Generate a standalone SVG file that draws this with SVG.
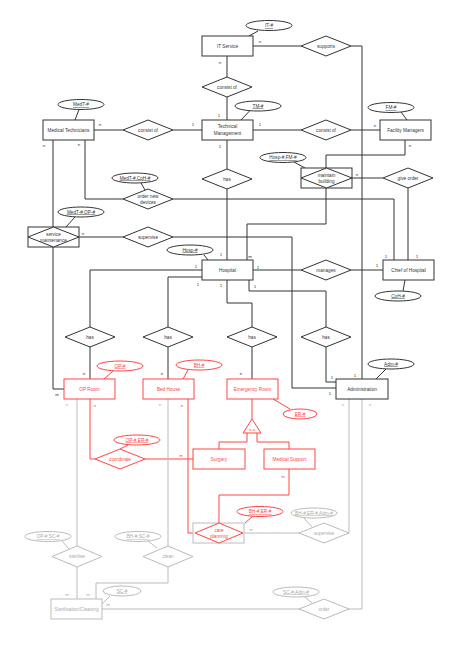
<svg xmlns="http://www.w3.org/2000/svg" width="454" height="651" viewBox="0 0 454 651">
<style>
text{font-family:"Liberation Sans",Arial,sans-serif;font-size:4.7px;text-anchor:middle;dominant-baseline:central}
.k rect,.k polygon,.k ellipse{fill:#fff;stroke:#333;stroke-width:1}
.k text{fill:#333}
.r rect,.r polygon,.r ellipse{fill:#fff;stroke:#f44;stroke-width:1}
.r text{fill:#f44}
.g rect,.g polygon,.g ellipse{fill:#fff;stroke:#bbb;stroke-width:1}
.g text{fill:#aaa}
.u{text-decoration:underline}
path{fill:none;stroke-width:1}
.lk{stroke:#333}.lr{stroke:#f44}.lg{stroke:#bbb}
.c{font-size:4.4px}
.ck{fill:#333}.cr{fill:#f44}.cg{fill:#aaa}
</style>
<rect width="454" height="651" fill="#fff"/>
<g id="connectors">
<g class="lk">
<path class="lk" d="M227,56V77M227,97V120M253,46H301M351,46H362V379M94,130H123M173,130H202M253,130H301M351,130H380M227,140V169M227,189V260M85,140V199H123M173,199H394V260M405,140V155H326V168M326,188V224H247V260M352,178H383M408,188V260M53,140V227M79,237H123M173,237H292V388H336M53,247V389H64M253,270H301M351,270H383M202,270H90V327M202,277H168V327M227,280V303H252V327M249,280V291H326V327M90,347V379M168,347V379M252,347V379M326,347V382H336"/>
<path class="lk" d="M258,31L249,36M79,109.5L75,120M250,110.5L241,120M401,112L407,120M294,162L305,168M141,183L145,190M75,217L66,227M204,255L208,260M403,291L405,280M386,369L376,379"/>
</g>
<path class="lr" d="M252,399V419M247,433V442H219V449M257,433V442H289V449M90,399V459H95M145,459H193M188,399V533H195M289,469V495H219V523M113,371L104,379M188,370L183,379M290,409L273,399M128,445L120,449M253,516L245,523"/>
<path class="lg" d="M77,399V546M77,567V599M168,399V546M168,567V583H96V599M102,609H299M349,609H362V399M244,533H299M349,533V399M304,518L312,527M62,541L69,549M148,541L157,548M110,596L102,604M305,597L312,603"/>
</g>
<g id="labels">
<text class="c ck" x="260" y="41">n</text>
<text class="c ck" x="220" y="62">n</text>
<text class="c ck" x="219" y="115">1</text>
<text class="c ck" x="193" y="124">1</text>
<text class="c ck" x="260" y="124">1</text>
<text class="c ck" x="220" y="146">1</text>
<text class="c ck" x="100" y="124">n</text>
<text class="c ck" x="44" y="145">n</text>
<text class="c ck" x="79" y="144">n</text>
<text class="c ck" x="375" y="125">n</text>
<text class="c ck" x="410" y="145">n</text>
<text class="c ck" x="357" y="174">n</text>
<text class="c ck" x="386" y="256">1</text>
<text class="c ck" x="417" y="256">1</text>
<text class="c ck" x="377" y="265">1</text>
<text class="c ck" x="83" y="233">n</text>
<text class="c ck" x="250" y="256">m</text>
<text class="c ck" x="221" y="254">1</text>
<text class="c ck" x="196" y="266">1</text>
<text class="c ck" x="198" y="284">1</text>
<text class="c ck" x="258" y="267">1</text>
<text class="c ck" x="221" y="285">1</text>
<text class="c ck" x="255" y="286">1</text>
<text class="c ck" x="84" y="373">n</text>
<text class="c ck" x="57" y="394">m</text>
<text class="c ck" x="162" y="373">n</text>
<text class="c ck" x="241" y="373">n</text>
<text class="c ck" x="332" y="377">1</text>
<text class="c ck" x="355" y="375">1</text>
<text class="c ck" x="330" y="393">1</text>
<text class="c cr" x="95" y="405">n</text>
<text class="c cr" x="182" y="405">n</text>
<text class="c cr" x="181" y="455">m</text>
<text class="c cr" x="283" y="476">m</text>
<text class="c cg" x="67" y="404">n</text>
<text class="c cg" x="160" y="404">n</text>
<text class="c cg" x="343" y="404">n</text>
<text class="c cg" x="370" y="404">n</text>
<text class="c cg" x="67" y="594">m</text>
<text class="c cg" x="88" y="594">m</text>
<text class="c cg" x="108" y="604">m</text>
<text class="c cg" x="251" y="529">m</text>
</g>
<g id="it-service" class="k"><rect x="202" y="36" width="51" height="20"/><text x="227.5" y="46">IT Service</text></g>
<g id="tech-mgmt" class="k"><rect x="202" y="120" width="51" height="20"/><text x="227.5" y="126.5">Technical</text><text x="227.5" y="133.5">Management</text></g>
<g id="med-tech" class="k"><rect x="43" y="120" width="51" height="20"/><text x="68.5" y="130">Medical Technicians</text></g>
<g id="facility-managers" class="k"><rect x="380" y="120" width="51" height="20"/><text x="405.5" y="130">Facility Managers</text></g>
<g id="hospital" class="k"><rect x="202" y="260" width="51" height="20"/><text x="227.5" y="270">Hospital</text></g>
<g id="chief" class="k"><rect x="383" y="260" width="51" height="20"/><text x="408.5" y="270">Chief of Hospital</text></g>
<g id="administration" class="k"><rect x="336" y="379" width="52" height="20"/><text x="362" y="389">Administration</text></g>
<g id="op-room" class="r"><rect x="64" y="379" width="51" height="20"/><text x="89.5" y="389">OP Room</text></g>
<g id="bed-house" class="r"><rect x="143" y="379" width="51" height="20"/><text x="168.5" y="389">Bed House</text></g>
<g id="emergency-room" class="r"><rect x="227" y="379" width="51" height="20"/><text x="252.5" y="389">Emergency Room</text></g>
<g id="surgery" class="r"><rect x="193" y="449" width="52" height="20"/><text x="219" y="459">Surgery</text></g>
<g id="medical-support" class="r"><rect x="264" y="449" width="51" height="20"/><text x="289.5" y="459">Medical Support</text></g>
<g id="isa" class="r"><polygon points="252,419 243,433 261,433"/><text x="252" y="429" style="font-size:4.2px">is a</text></g>
<g id="sterilisation" class="g"><rect x="51" y="599" width="51" height="20"/><text x="76.5" y="609">Sterilisation/Cleaning</text></g>
<g id="consist-top" class="k"><polygon points="202,87 227,77 252,87 227,97"/><text x="227" y="87">consist of</text></g>
<g id="supports" class="k"><polygon points="301,46 326,36 351,46 326,56"/><text x="326" y="46">supports</text></g>
<g id="consist-left" class="k"><polygon points="123,130 148,120 173,130 148,140"/><text x="148" y="130">consist of</text></g>
<g id="consist-right" class="k"><polygon points="301,130 326,120 351,130 326,140"/><text x="326" y="130">consist of</text></g>
<g id="has-tm" class="k"><polygon points="202,179 227,169 252,179 227,189"/><text x="227" y="179">has</text></g>
<g id="order-devices" class="k"><polygon points="123,199 148,189 173,199 148,209"/><text x="148" y="196">order new</text><text x="148" y="202.5">devices</text></g>
<g id="maintain-building" class="k"><rect x="301" y="168" width="51" height="20"/><polygon points="301,178 326.5,168 352,178 326.5,188"/><text x="326.5" y="175">maintain</text><text x="326.5" y="181.5">building</text></g>
<g id="give-order" class="k"><polygon points="383,178 408,168 433,178 408,188"/><text x="408" y="178">give order</text></g>
<g id="service-maintenance" class="k"><rect x="28" y="227" width="51" height="20"/><polygon points="28,237 53.5,227 79,237 53.5,247"/><text x="53.5" y="234">service</text><text x="53.5" y="240.5">maintenance</text></g>
<g id="supervise-top" class="k"><polygon points="123,237 148,227 173,237 148,247"/><text x="148" y="237">supervise</text></g>
<g id="manages" class="k"><polygon points="301,270 326,260 351,270 326,280"/><text x="326" y="270">manages</text></g>
<g id="has-op" class="k"><polygon points="65,337 90,327 115,337 90,347"/><text x="90" y="337">has</text></g>
<g id="has-bh" class="k"><polygon points="143,337 168,327 193,337 168,347"/><text x="168" y="337">has</text></g>
<g id="has-er" class="k"><polygon points="227,337 252,327 277,337 252,347"/><text x="252" y="337">has</text></g>
<g id="has-adm" class="k"><polygon points="301,337 326,327 351,337 326,347"/><text x="326" y="337">has</text></g>
<g id="coordinate" class="r"><polygon points="95,459 120,449 145,459 120,469"/><text x="120" y="459">coordinate</text></g>
<g id="care-planning"><g class="g"><rect x="193" y="523" width="51" height="20"/></g><g class="r"><polygon points="195,533 219,523 243,533 219,543"/><text x="219" y="530">care</text><text x="219" y="536.5">planning</text></g></g>
<g id="supervise-bottom" class="g"><polygon points="299,533 324,523 349,533 324,543"/><text x="324" y="533">supervise</text></g>
<g id="sterilise" class="g"><polygon points="52,556.5 77,546 102,556.5 77,567"/><text x="77" y="556.5">sterilise</text></g>
<g id="clean" class="g"><polygon points="143,556.5 168,546 193,556.5 168,567"/><text x="168" y="556.5">clean</text></g>
<g id="order" class="g"><polygon points="299,609 324,599 349,609 324,619"/><text x="324" y="609">order</text></g>
<g id="attr-it" class="k"><ellipse cx="269" cy="25.5" rx="23" ry="5"/><text class="u" x="269" y="25.5">IT-#</text></g>
<g id="attr-medt" class="k"><ellipse cx="81" cy="104.5" rx="23" ry="5"/><text class="u" x="81" y="104.5">MedT-#</text></g>
<g id="attr-tm" class="k"><ellipse cx="258" cy="106" rx="23" ry="5"/><text class="u" x="258" y="106">TM-#</text></g>
<g id="attr-fm" class="k"><ellipse cx="391" cy="107.5" rx="23" ry="5"/><text class="u" x="391" y="107.5">FM-#</text></g>
<g id="attr-hosp-fm" class="k"><ellipse cx="283" cy="157.5" rx="23" ry="5"/><text class="u" x="283" y="157.5">Hosp-#,FM-#</text></g>
<g id="attr-medt-coh" class="k"><ellipse cx="135" cy="178" rx="23" ry="5"/><text class="u" x="135" y="178">MedT-#,CoH-#</text></g>
<g id="attr-medt-op" class="k"><ellipse cx="81" cy="212" rx="23" ry="5"/><text class="u" x="81" y="212">MedT-#,OP-#</text></g>
<g id="attr-hosp" class="k"><ellipse cx="190" cy="250" rx="23" ry="5"/><text class="u" x="190" y="250">Hosp-#</text></g>
<g id="attr-coh" class="k"><ellipse cx="398" cy="296" rx="23" ry="5"/><text class="u" x="398" y="296">CoH-#</text></g>
<g id="attr-adm" class="k"><ellipse cx="391" cy="364" rx="23" ry="5"/><text class="u" x="391" y="364">Adm-#</text></g>
<g id="attr-op" class="r"><ellipse cx="120" cy="366" rx="23" ry="5"/><text class="u" x="120" y="366">OP-#</text></g>
<g id="attr-bh" class="r"><ellipse cx="199" cy="365" rx="23" ry="5"/><text class="u" x="199" y="365">BH-#</text></g>
<g id="attr-er" class="r"><ellipse cx="300" cy="414" rx="17" ry="5"/><text class="u" x="300" y="414">ER-#</text></g>
<g id="attr-op-er" class="r"><ellipse cx="137" cy="440" rx="23" ry="5"/><text class="u" x="137" y="440">OP-#,ER-#</text></g>
<g id="attr-bh-er" class="r"><ellipse cx="260" cy="511.5" rx="23" ry="5"/><text class="u" x="260" y="511.5">BH-#,ER-#</text></g>
<g id="attr-bh-er-adm" class="g"><ellipse cx="314" cy="513" rx="23" ry="5"/><text class="u" x="314" y="513">BH-#,ER-#,Adm-#</text></g>
<g id="attr-op-sc" class="g"><ellipse cx="48" cy="536.5" rx="23" ry="5"/><text class="u" x="48" y="536.5">OP-#,SC-#</text></g>
<g id="attr-bh-sc" class="g"><ellipse cx="138" cy="536.5" rx="23" ry="5"/><text class="u" x="138" y="536.5">BH-#,SC-#</text></g>
<g id="attr-sc" class="g"><ellipse cx="122" cy="591" rx="19" ry="5"/><text class="u" x="122" y="591">SC-#</text></g>
<g id="attr-sc-adm" class="g"><ellipse cx="296" cy="592" rx="23" ry="5"/><text class="u" x="296" y="592">SC-#,Adm-#</text></g>
</svg>
